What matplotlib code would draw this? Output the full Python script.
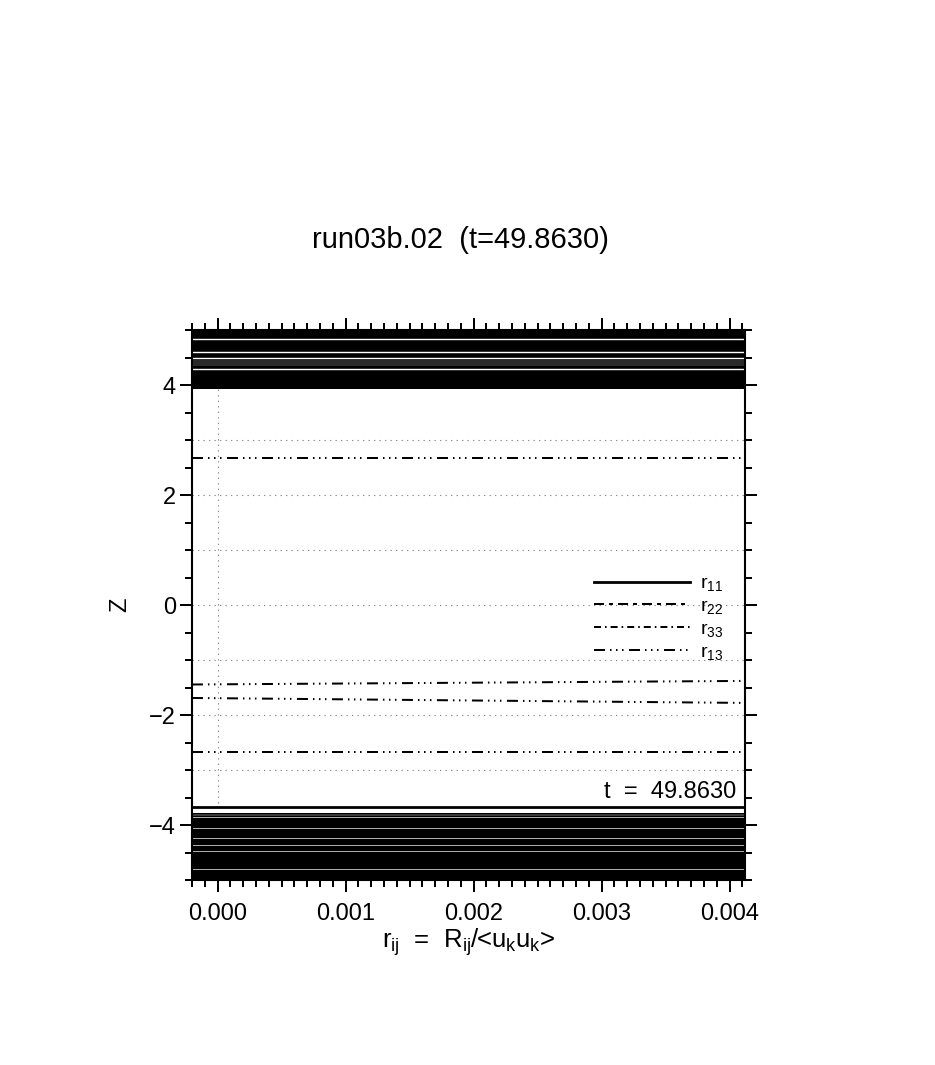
import matplotlib
matplotlib.use('Agg')
import matplotlib.pyplot as plt
from matplotlib.ticker import MultipleLocator, FormatStrFormatter

plt.rcParams['font.family'] = ['Liberation Sans', 'DejaVu Sans']
plt.rcParams['mathtext.fontset'] = 'custom'
plt.rcParams['mathtext.rm'] = 'Liberation Sans'
plt.rcParams['mathtext.default'] = 'regular'

# ---- data ----
run_name = 'run03b.02'
t_value = 49.8630

x_range = [-0.0002, 0.00412]
z_range = [-5.0, 5.0]

# r13 profile crossings (nearly horizontal segments): z at left / right edge
r13_z_left = [2.672, -1.445, -1.690, -2.667]
r13_z_right = [2.672, -1.380, -1.780, -2.667]

# r11 crossing near the lower band
r11_z = [-3.665, -3.665]

# dense oscillating parts (many overlapping lines) near the boundaries
band_top = (3.93, 5.0)
band_bot = (-5.0, -3.78)
gaps_top = [4.84, 4.60, 4.49, 4.30]
grey_top = (4.34, 4.46)
gaps_bot = [-3.86, -4.05, -4.24, -4.36, -4.47, -4.80]
grey_bot = (-3.80, -3.84)

grid_z = [-3, -2, -1, 0, 1, 2, 3]
grid_x = [0.0]

# ---- styles ----
ls_r11 = '-'
ls_r22 = (0, (5.0, 2.5, 2.0, 2.5))
ls_r33 = (0, (3.5, 2.0, 0.8, 2.0))
ls_r13 = (0, (5.5, 2.5, 0.75, 2.25, 0.75, 2.25, 0.75, 2.75))
dotted = (0, (1.2, 3.75))

fig = plt.figure(figsize=(9.35, 10.65), dpi=100)
ax = fig.add_axes([0.2053, 0.1737, 0.5914, 0.5164])

# bands
ax.axhspan(band_top[0], band_top[1], color='black', lw=0, zorder=1)
ax.axhspan(band_bot[0], band_bot[1], color='black', lw=0, zorder=1)
ax.axhspan(grey_top[0], grey_top[1], color='#2a2a2a', lw=0, zorder=1.1)
ax.axhspan(grey_bot[0], grey_bot[1], color='#3a3a3a', lw=0, zorder=1.1)
for g in gaps_top:
    ax.axhline(g, color='white', lw=1.0, zorder=1.2)
for g in gaps_bot:
    ax.axhline(g, color='#d0d0d0', lw=0.6, zorder=1.2)

# grid
for gz in grid_z:
    ax.axhline(gz, color='#8a8a8a', lw=0.8, linestyle=dotted, zorder=0.5)
for gx in grid_x:
    ax.axvline(gx, color='#8a8a8a', lw=0.8, linestyle=dotted, zorder=0.5)

# profiles
ax.plot(x_range, r11_z, color='black', lw=2.0, linestyle=ls_r11, zorder=2, label='r$_{11}$')
ax.plot([], [], color='black', lw=1.44, linestyle=ls_r22, label='r$_{22}$')
ax.plot([], [], color='black', lw=1.44, linestyle=ls_r33, label='r$_{33}$')
for i in range(0, len(r13_z_left)):
    ax.plot(x_range, [r13_z_left[i], r13_z_right[i]], color='black', lw=1.44,
            linestyle=ls_r13, zorder=2, label='r$_{13}$' if i == 0 else None)

ax.set_xlim(x_range)
ax.set_ylim(z_range)

ax.xaxis.set_major_locator(MultipleLocator(0.001))
ax.xaxis.set_minor_locator(MultipleLocator(0.0001))
ax.xaxis.set_major_formatter(FormatStrFormatter('%.3f'))
ax.yaxis.set_major_locator(MultipleLocator(2))
ax.yaxis.set_minor_locator(MultipleLocator(0.5))

ax.tick_params(which='both', direction='out', top=True, right=True, width=1.44,
               labelsize=17)
ax.tick_params(which='major', length=8.6)
ax.tick_params(which='minor', length=5)
ax.tick_params(axis='x', pad=8)
ax.tick_params(axis='y', pad=3)
for sp in ax.spines.values():
    sp.set_linewidth(1.5)

ax.set_xlabel('r$_{ij}$  =  R$_{ij}$/<u$_k$u$_k$>', fontsize=18.5, labelpad=1)
ax.set_ylabel('Z', fontsize=17)
ax.yaxis.set_label_coords(-0.11, 0.5)

ax.text(0.985, 0.16, 't  =  %.4f' % t_value, transform=ax.transAxes,
        ha='right', va='center', fontsize=17)

fig.suptitle('%s  (t=%.4f)' % (run_name, t_value), x=0.492, y=0.7746,
             va='center', fontsize=21)

ax.legend(loc='upper left', bbox_to_anchor=(0.727, 0.555), frameon=False,
          fontsize=14, handlelength=4.95, handletextpad=0.5, labelspacing=0.22,
          borderpad=0, borderaxespad=0)

fig.savefig('out.png', dpi=100)
